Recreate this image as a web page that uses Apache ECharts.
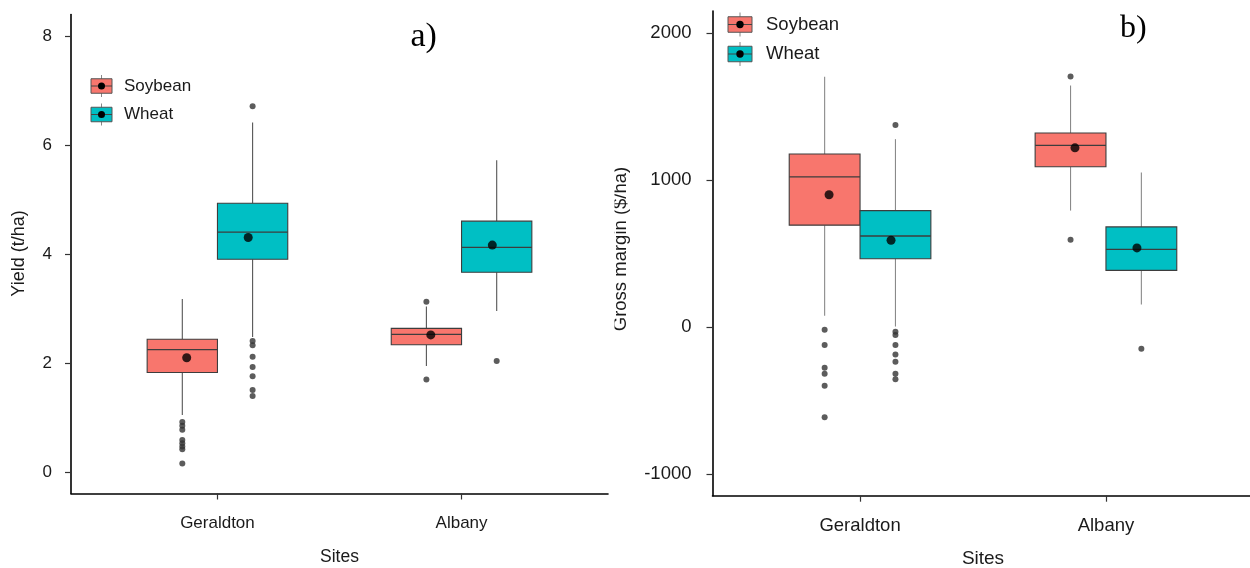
<!DOCTYPE html>
<html>
<head>
<meta charset="utf-8">
<script src="https://cdn.jsdelivr.net/npm/echarts@6/dist/echarts.min.js"></script>
<style>
html,body{margin:0;padding:0;background:#fff;}
#chart{width:1250px;height:568px;}
</style>
</head>
<body>
<div id="chart"></div>
<script>
// ---------- data ----------
const sites = ['Geraldton', 'Albany'];
const crops = ['Soybean', 'Wheat'];
const cropColors = ['#F8766D', '#00BFC4'];
const panelTags = ['a)', 'b)'];
const yTitles = ['Yield (t/ha)', 'Gross margin ($/ha)'];
const xTitle = 'Sites';

// Panel a: yield (t/ha); box = [lower whisker, Q1, median, Q3, upper whisker] per site
const yieldSoybeanBox = [[1.05, 1.83, 2.25, 2.44, 3.18], [1.95, 2.34, 2.53, 2.64, 3.04]];
const yieldWheatBox = [[2.48, 3.91, 4.41, 4.94, 6.42], [2.96, 3.67, 4.13, 4.61, 5.73]];
const yieldSoybeanMean = [2.10, 2.52];
const yieldWheatMean = [4.31, 4.17];
const yieldSoybeanOutliers = [[0.92, 0.85, 0.78, 0.59, 0.53, 0.47, 0.42, 0.16], [3.13, 1.70]];
const yieldWheatOutliers = [[6.72, 2.41, 2.33, 2.12, 1.93, 1.76, 1.51, 1.40], [2.04]];
const yieldTicks = [0, 2, 4, 6, 8];

// Panel b: gross margin ($/ha)
const gmSoybeanBox = [[76, 693, 1021, 1177, 1702], [792, 1090, 1236, 1320, 1643]];
const gmWheatBox = [[3, 464, 619, 792, 1278], [153, 385, 528, 681, 1051]];
const gmSoybeanMean = [900, 1219];
const gmWheatMean = [590, 538];
const gmSoybeanOutliers = [[-19, -123, -278, -319, -400, -614], [1705, 594]];
const gmWheatOutliers = [[1374, -33, -55, -123, -187, -237, -319, -355], [-148]];
const gmTicks = [-1000, 0, 1000, 2000];

// ---------- layout / style ----------
const FONT = 'Liberation Sans, Arial, sans-serif';
const SERIF = 'Liberation Serif, Times New Roman, serif';
const boxWidth = 0.288;      // in category units
const boxDodge = 0.144;      // offset of each crop's box from the site centre
const meanDodge = 0.126;     // offset of mean points
const panels = [
  { box: [yieldSoybeanBox, yieldWheatBox], mean: [yieldSoybeanMean, yieldWheatMean],
    out: [yieldSoybeanOutliers, yieldWheatOutliers], ticks: yieldTicks,
    ymin: -0.393, ymax: 8.406, grid: { left: 71, top: 14.5, width: 537, height: 479 },
    fs: 17, whisker: '#555', labelMargin: 19, xLabelMargin: 21, nameGap: 55 },
  { box: [gmSoybeanBox, gmWheatBox], mean: [gmSoybeanMean, gmWheatMean],
    out: [gmSoybeanOutliers, gmWheatOutliers], ticks: gmTicks,
    ymin: -1148, ymax: 2150, grid: { left: 712.5, top: 11, width: 541, height: 484.7 },
    fs: 18.5, whisker: '#8a8a8a', labelMargin: 21, xLabelMargin: 21, nameGap: 54 }
];

function boxRender(whiskerColor) {
  return function (params, api) {
    const x = api.value(0);
    const lo = api.coord([x, api.value(1)]);
    const q1 = api.coord([x, api.value(2)]);
    const md = api.coord([x, api.value(3)]);
    const q3 = api.coord([x, api.value(4)]);
    const hi = api.coord([x, api.value(5)]);
    const half = api.size([boxWidth, 0])[0] / 2;
    const fill = api.visual('color');
    return {
      type: 'group',
      children: [
        { type: 'line', shape: { x1: lo[0], y1: lo[1], x2: q1[0], y2: q1[1] }, style: { stroke: whiskerColor, lineWidth: 1.1 } },
        { type: 'line', shape: { x1: q3[0], y1: q3[1], x2: hi[0], y2: hi[1] }, style: { stroke: whiskerColor, lineWidth: 1.1 } },
        { type: 'rect', shape: { x: q3[0] - half, y: q3[1], width: half * 2, height: q1[1] - q3[1] },
          style: { fill: fill, stroke: '#3d3d3d', lineWidth: 1.1 } },
        { type: 'line', shape: { x1: md[0] - half, y1: md[1], x2: md[0] + half, y2: md[1] },
          style: { stroke: '#3d3d3d', lineWidth: 1.3 } }
      ]
    };
  };
}

const grids = [], xAxes = [], yAxes = [], series = [];
panels.forEach((p, pi) => {
  grids.push(Object.assign({ containLabel: false, outerBoundsMode: 'none' }, p.grid));
  xAxes.push({
    type: 'value', gridIndex: pi, min: 0.4, max: 2.6,
    name: xTitle, nameLocation: 'middle', nameGap: p.nameGap,
    nameTextStyle: { fontFamily: FONT, fontSize: p.fs + 0.5, color: '#1a1a1a' },
    splitLine: { show: false },
    axisLine: { show: true, onZero: false, lineStyle: { color: '#000', width: 1.6 } },
    axisTick: { show: true, length: 6, customValues: [1, 2], lineStyle: { color: '#333', width: 1.2 } },
    axisLabel: { show: true, customValues: [1, 2], margin: p.xLabelMargin, fontFamily: FONT, fontSize: p.fs, color: '#1a1a1a',
      formatter: v => sites[Math.round(v) - 1] || '' }
  });
  yAxes.push({
    type: 'value', gridIndex: pi, min: p.ymin, max: p.ymax,
    splitLine: { show: false },
    axisLine: { show: true, onZero: false, lineStyle: { color: '#000', width: 1.6 } },
    axisTick: { show: true, length: 6, customValues: p.ticks, lineStyle: { color: '#333', width: 1.2 } },
    axisLabel: { show: true, customValues: p.ticks, margin: p.labelMargin, fontFamily: FONT, fontSize: p.fs, color: '#1a1a1a',
      formatter: v => String(v) }
  });
  crops.forEach((crop, ci) => {
    const sign = ci === 0 ? -1 : 1;
    series.push({
      type: 'custom', name: crop, xAxisIndex: pi, yAxisIndex: pi,
      itemStyle: { color: cropColors[ci] },
      renderItem: boxRender(p.whisker),
      encode: { x: 0, y: [1, 2, 3, 4, 5] },
      data: p.box[ci].map((b, si) => [si + 1 + sign * boxDodge].concat(b)),
      z: 2
    });
    const outData = [];
    p.out[ci].forEach((vals, si) => vals.forEach(v => outData.push([si + 1 + sign * boxDodge, v])));
    series.push({
      type: 'scatter', name: crop + ' outliers', xAxisIndex: pi, yAxisIndex: pi,
      symbol: 'circle', symbolSize: 6, itemStyle: { color: '#333' },
      data: outData, z: 3, silent: true
    });
    series.push({
      type: 'scatter', name: crop + ' mean', xAxisIndex: pi, yAxisIndex: pi,
      symbol: 'circle', symbolSize: 9, itemStyle: { color: '#000' },
      data: p.mean[ci].map((m, si) => [si + 1 + sign * meanDodge, m]), z: 4, silent: true
    });
  });
});

// legends (drawn as mini boxplot keys), panel tags and y titles
const legendSpec = [
  { x: 91, ys: [86, 114.5], w: 21, h: 14.5, whiskerHalf: 11, r: 3.5, textX: 124, fs: 17 },
  { x: 728, ys: [24.5, 54], w: 24, h: 15.5, whiskerHalf: 12, r: 3.7, textX: 766, fs: 18.5 }
];
const graphics = [];
legendSpec.forEach(L => {
  crops.forEach((crop, ci) => {
    const cy = L.ys[ci], cx = L.x + L.w / 2;
    graphics.push({ type: 'line', shape: { x1: cx, y1: cy - L.whiskerHalf, x2: cx, y2: cy + L.whiskerHalf }, style: { stroke: '#888', lineWidth: 1 } });
    graphics.push({ type: 'rect', shape: { x: L.x, y: cy - L.h / 2, width: L.w, height: L.h }, style: { fill: cropColors[ci], stroke: '#555', lineWidth: 1 } });
    graphics.push({ type: 'line', shape: { x1: L.x, y1: cy, x2: L.x + L.w, y2: cy }, style: { stroke: '#444', lineWidth: 1 } });
    graphics.push({ type: 'circle', shape: { cx: cx, cy: cy, r: L.r }, style: { fill: '#000' } });
    graphics.push({ type: 'text', x: L.textX, y: cy, style: { text: crop, font: L.fs + 'px ' + FONT, fill: '#1a1a1a', verticalAlign: 'middle', align: 'left' } });
  });
});
graphics.push({ type: 'text', x: 410.5, y: 37.5, style: { text: panelTags[0], font: '34px ' + SERIF, fill: '#000', verticalAlign: 'middle', align: 'left' } });
graphics.push({ type: 'text', x: 1120, y: 29, style: { text: panelTags[1], font: '32px ' + SERIF, fill: '#000', verticalAlign: 'middle', align: 'left' } });
graphics.push({ type: 'text', x: 19.5, y: 253.5, rotation: Math.PI / 2, style: { text: yTitles[0], font: '18px ' + FONT, fill: '#1a1a1a', verticalAlign: 'middle', align: 'center' } });
graphics.push({ type: 'text', x: 620.5, y: 249, rotation: Math.PI / 2, style: { text: yTitles[1], font: '18.5px ' + FONT, fill: '#1a1a1a', verticalAlign: 'middle', align: 'center' } });
// the right panel's y title is cut off on its left side in the original figure
graphics.push({ type: 'rect', shape: { x: 606, y: 140, width: 8.5, height: 220 }, style: { fill: '#fff' }, z: 100 });

const chart = echarts.init(document.getElementById('chart'), null, { renderer: 'canvas' });
chart.setOption({
  animation: false,
  backgroundColor: '#fff',
  grid: grids,
  xAxis: xAxes,
  yAxis: yAxes,
  series: series,
  graphic: graphics
});
</script>
</body>
</html>
